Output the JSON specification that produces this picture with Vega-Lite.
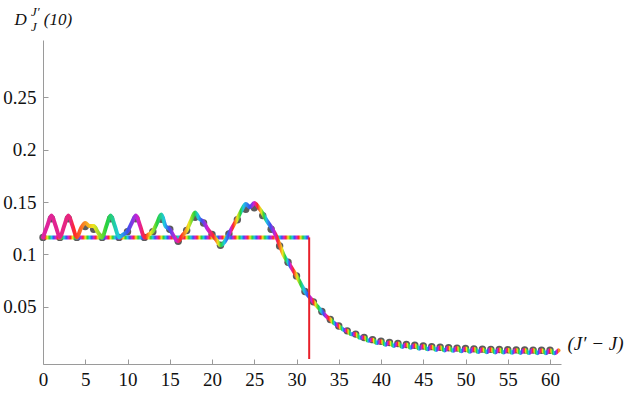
{
"$schema": "https://vega.github.io/schema/vega-lite/v6.json",
"width": 518, "height": 324,
"autosize": {"type": "none"},
"padding": {"left": 43, "top": 40, "right": 81, "bottom": 38},
"background": "white",
"config": {"view": {"stroke": null}, "font": "Liberation Serif", "axis": {"labelFont": "Liberation Serif", "titleFont": "Liberation Serif"}, "title": {"font": "Liberation Serif", "subtitleFont": "Liberation Serif"}},
"title": {"text": "J′", "subtitle": "J", "anchor": "start", "frame": "group", "dx": -12, "offset": -24, "fontSize": 13, "fontStyle": "italic", "fontWeight": "normal", "font": "Liberation Serif", "color": "#111", "subtitleFontSize": 13, "subtitleFontStyle": "italic", "subtitleFont": "Liberation Serif", "subtitleColor": "#111", "subtitlePadding": 2},
"datasets": {
"dots": [
{"x":0,"v":0.1162},{"x":1,"v":0.134},{"x":2,"v":0.1162},{"x":3,"v":0.134},{"x":4,"v":0.1162},{"x":5,"v":0.1265},{"x":6,"v":0.124},{"x":7,"v":0.1162},{"x":8,"v":0.134},{"x":9,"v":0.1162},
{"x":10,"v":0.1215},{"x":11,"v":0.134},{"x":12,"v":0.1162},{"x":13,"v":0.1215},{"x":14,"v":0.1335},{"x":15,"v":0.124},{"x":16,"v":0.1125},{"x":17,"v":0.1228},{"x":18,"v":0.1355},{"x":19,"v":0.130},
{"x":20,"v":0.119},{"x":21,"v":0.1087},{"x":22,"v":0.1195},{"x":23,"v":0.133},{"x":24,"v":0.143},{"x":25,"v":0.1444},{"x":26,"v":0.137},{"x":27,"v":0.124},{"x":28,"v":0.108},{"x":29,"v":0.0925},
{"x":30,"v":0.0794},{"x":31,"v":0.0645},{"x":32,"v":0.0546},{"x":33,"v":0.0454},{"x":34,"v":0.0377},{"x":35,"v":0.0315},{"x":36,"v":0.0269},{"x":37,"v":0.0238},{"x":38,"v":0.0206},{"x":39,"v":0.0185},
{"x":40,"v":0.0170},{"x":41,"v":0.0158},{"x":42,"v":0.0148},{"x":43,"v":0.0139},{"x":44,"v":0.0131},{"x":45,"v":0.0124},{"x":46,"v":0.0118},{"x":47,"v":0.0113},{"x":48,"v":0.0108},{"x":49,"v":0.0104},
{"x":50,"v":0.0100},{"x":51,"v":0.0097},{"x":52,"v":0.0094},{"x":53,"v":0.0092},{"x":54,"v":0.0090},{"x":55,"v":0.0088},{"x":56,"v":0.0087},{"x":57,"v":0.0086},{"x":58,"v":0.0085},{"x":59,"v":0.0084},{"x":60,"v":0.0083}
],
"curve": [
{"x":0,"v":0.1162},{"x":0.5,"v":0.127},{"x":1,"v":0.137},{"x":1.5,"v":0.127},{"x":2,"v":0.1162},{"x":2.5,"v":0.127},{"x":3,"v":0.137},{"x":3.5,"v":0.127},{"x":4,"v":0.1162},{"x":4.5,"v":0.125},
{"x":5,"v":0.130},{"x":5.5,"v":0.127},{"x":6,"v":0.127},{"x":6.5,"v":0.121},{"x":7,"v":0.1162},{"x":7.5,"v":0.127},{"x":8,"v":0.137},{"x":8.5,"v":0.127},{"x":9,"v":0.1162},{"x":9.5,"v":0.119},
{"x":10,"v":0.122},{"x":10.5,"v":0.130},{"x":11,"v":0.137},{"x":11.5,"v":0.127},{"x":12,"v":0.1162},{"x":12.5,"v":0.119},{"x":13,"v":0.122},{"x":13.5,"v":0.130},{"x":14,"v":0.138},{"x":14.5,"v":0.127},
{"x":15,"v":0.124},{"x":15.5,"v":0.117},{"x":16,"v":0.1125},{"x":16.5,"v":0.118},{"x":17,"v":0.123},{"x":17.5,"v":0.132},{"x":18,"v":0.140},{"x":18.5,"v":0.134},{"x":19,"v":0.131},{"x":19.5,"v":0.124},
{"x":20,"v":0.119},{"x":20.5,"v":0.114},{"x":21,"v":0.1087},{"x":21.5,"v":0.112},{"x":22,"v":0.1195},{"x":22.5,"v":0.127},{"x":23,"v":0.134},{"x":23.5,"v":0.142},{"x":24,"v":0.148},{"x":24.5,"v":0.145},
{"x":25,"v":0.149},{"x":25.5,"v":0.145},{"x":26,"v":0.139},{"x":26.5,"v":0.132},{"x":27,"v":0.126},{"x":27.5,"v":0.119},{"x":28,"v":0.109},{"x":28.5,"v":0.099},{"x":29,"v":0.0925},{"x":29.5,"v":0.086},
{"x":30,"v":0.0794},{"x":30.5,"v":0.072},{"x":31,"v":0.0645},{"x":31.5,"v":0.0595},{"x":32,"v":0.0546},{"x":32.5,"v":0.050},{"x":33,"v":0.0454},{"x":33.5,"v":0.041},{"x":34,"v":0.0377},{"x":34.5,"v":0.034},
{"x":35,"v":0.0315},{"x":35.5,"v":0.0282},{"x":36,"v":0.0269},{"x":36.5,"v":0.0236},{"x":37,"v":0.0238},{"x":37.5,"v":0.0203},{"x":38,"v":0.0206},{"x":38.5,"v":0.0174},{"x":39,"v":0.0185},{"x":39.5,"v":0.0152},
{"x":40,"v":0.0170},{"x":40.5,"v":0.0137},{"x":41,"v":0.0158},{"x":41.5,"v":0.0125},{"x":42,"v":0.0148},{"x":42.5,"v":0.0115},{"x":43,"v":0.0139},{"x":43.5,"v":0.0107},{"x":44,"v":0.0131},{"x":44.5,"v":0.0099},
{"x":45,"v":0.0124},{"x":45.5,"v":0.0093},{"x":46,"v":0.0118},{"x":46.5,"v":0.0087},{"x":47,"v":0.0113},{"x":47.5,"v":0.0082},{"x":48,"v":0.0108},{"x":48.5,"v":0.0078},{"x":49,"v":0.0104},{"x":49.5,"v":0.0074},
{"x":50,"v":0.0100},{"x":50.5,"v":0.0070},{"x":51,"v":0.0097},{"x":51.5,"v":0.0067},{"x":52,"v":0.0094},{"x":52.5,"v":0.0065},{"x":53,"v":0.0092},{"x":53.5,"v":0.0063},{"x":54,"v":0.0090},{"x":54.5,"v":0.0061},
{"x":55,"v":0.0088},{"x":55.5,"v":0.0059},{"x":56,"v":0.0087},{"x":56.5,"v":0.0058},{"x":57,"v":0.0086},{"x":57.5,"v":0.0057},{"x":58,"v":0.0085},{"x":58.5,"v":0.0056},{"x":59,"v":0.0084},{"x":59.5,"v":0.0055},
{"x":60,"v":0.0083},{"x":60.5,"v":0.0054},{"x":61,"v":0.0082}
],
"band": [{"x":0,"x2":31.5,"v":0.1162}],
"turn": [{"x":31.5,"v":0,"v2":0.1162}]
},
"layer": [
{"data": {"name": "dots"},
 "mark": {"type": "point", "filled": true, "size": 55, "color": "#5c5c5c", "opacity": 1},
 "encoding": {
  "x": {"field": "x", "type": "quantitative", "scale": {"domain": [0, 61.3], "nice": false},
        "axis": {"values": [0,5,10,15,20,25,30,35,40,45,50,55,60], "format": "d", "grid": false, "domainColor": "#9a9a9a", "tickColor": "#9a9a9a", "tickSize": -5, "labelPadding": 11, "labelFontSize": 19, "labelFont": "Liberation Serif", "labelColor": "#111", "labelFlush": false, "labelOverlap": false,
                 "title": "(J′ − J)", "titleAngle": 0, "titleX": 524, "titleY": -21, "titleAlign": "left", "titleBaseline": "middle", "titleFontSize": 19, "titleFont": "Liberation Serif", "titleFontStyle": "italic", "titleFontWeight": "normal", "titleColor": "#111"}},
  "y": {"field": "v", "type": "quantitative", "scale": {"domain": [0, 0.3], "nice": false},
        "axis": {"values": [0.05,0.1,0.15,0.2,0.25], "format": "~g", "grid": false, "domainColor": "#9a9a9a", "tickColor": "#9a9a9a", "tickSize": -5, "labelPadding": 12, "labelFontSize": 19, "labelFont": "Liberation Serif", "labelColor": "#111",
                 "title": "D\u00a0\u00a0\u00a0\u00a0(10)", "titleAngle": 0, "titleX": -29, "titleY": -16, "titleAlign": "left", "titleBaseline": "alphabetic", "titleFontSize": 17, "titleFont": "Liberation Serif", "titleFontStyle": "italic", "titleFontWeight": "normal", "titleColor": "#111"}}
 }},
{"data": {"name": "band"},
 "mark": {"type": "bar", "height": 4, "color": {"gradient": "linear", "x1": 0, "x2": 1, "y1": 0, "y2": 0, "stops": [
{"offset":0,"color":"#d21ed2"},{"offset":0.00794,"color":"#ff2828"},{"offset":0.01587,"color":"#f0e61e"},{"offset":0.02381,"color":"#28d23c"},{"offset":0.03175,"color":"#1ec8e6"},{"offset":0.03968,"color":"#3c50f0"},
{"offset":0.04762,"color":"#d21ed2"},{"offset":0.05556,"color":"#ff2828"},{"offset":0.06349,"color":"#f0e61e"},{"offset":0.07143,"color":"#28d23c"},{"offset":0.07937,"color":"#1ec8e6"},{"offset":0.08730,"color":"#3c50f0"},
{"offset":0.09524,"color":"#d21ed2"},{"offset":0.10317,"color":"#ff2828"},{"offset":0.11111,"color":"#f0e61e"},{"offset":0.11905,"color":"#28d23c"},{"offset":0.12698,"color":"#1ec8e6"},{"offset":0.13492,"color":"#3c50f0"},
{"offset":0.14286,"color":"#d21ed2"},{"offset":0.15079,"color":"#ff2828"},{"offset":0.15873,"color":"#f0e61e"},{"offset":0.16667,"color":"#28d23c"},{"offset":0.17460,"color":"#1ec8e6"},{"offset":0.18254,"color":"#3c50f0"},
{"offset":0.19048,"color":"#d21ed2"},{"offset":0.19841,"color":"#ff2828"},{"offset":0.20635,"color":"#f0e61e"},{"offset":0.21429,"color":"#28d23c"},{"offset":0.22222,"color":"#1ec8e6"},{"offset":0.23016,"color":"#3c50f0"},
{"offset":0.23810,"color":"#d21ed2"},{"offset":0.24603,"color":"#ff2828"},{"offset":0.25397,"color":"#f0e61e"},{"offset":0.26190,"color":"#28d23c"},{"offset":0.26984,"color":"#1ec8e6"},{"offset":0.27778,"color":"#3c50f0"},
{"offset":0.28571,"color":"#d21ed2"},{"offset":0.29365,"color":"#ff2828"},{"offset":0.30159,"color":"#f0e61e"},{"offset":0.30952,"color":"#28d23c"},{"offset":0.31746,"color":"#1ec8e6"},{"offset":0.32540,"color":"#3c50f0"},
{"offset":0.33333,"color":"#d21ed2"},{"offset":0.34127,"color":"#ff2828"},{"offset":0.34921,"color":"#f0e61e"},{"offset":0.35714,"color":"#28d23c"},{"offset":0.36508,"color":"#1ec8e6"},{"offset":0.37302,"color":"#3c50f0"},
{"offset":0.38095,"color":"#d21ed2"},{"offset":0.38889,"color":"#ff2828"},{"offset":0.39683,"color":"#f0e61e"},{"offset":0.40476,"color":"#28d23c"},{"offset":0.41270,"color":"#1ec8e6"},{"offset":0.42063,"color":"#3c50f0"},
{"offset":0.42857,"color":"#d21ed2"},{"offset":0.43651,"color":"#ff2828"},{"offset":0.44444,"color":"#f0e61e"},{"offset":0.45238,"color":"#28d23c"},{"offset":0.46032,"color":"#1ec8e6"},{"offset":0.46825,"color":"#3c50f0"},
{"offset":0.47619,"color":"#d21ed2"},{"offset":0.48413,"color":"#ff2828"},{"offset":0.49206,"color":"#f0e61e"},{"offset":0.5,"color":"#28d23c"},{"offset":0.50794,"color":"#1ec8e6"},{"offset":0.51587,"color":"#3c50f0"},
{"offset":0.52381,"color":"#d21ed2"},{"offset":0.53175,"color":"#ff2828"},{"offset":0.53968,"color":"#f0e61e"},{"offset":0.54762,"color":"#28d23c"},{"offset":0.55556,"color":"#1ec8e6"},{"offset":0.56349,"color":"#3c50f0"},
{"offset":0.57143,"color":"#d21ed2"},{"offset":0.57937,"color":"#ff2828"},{"offset":0.58730,"color":"#f0e61e"},{"offset":0.59524,"color":"#28d23c"},{"offset":0.60317,"color":"#1ec8e6"},{"offset":0.61111,"color":"#3c50f0"},
{"offset":0.61905,"color":"#d21ed2"},{"offset":0.62698,"color":"#ff2828"},{"offset":0.63492,"color":"#f0e61e"},{"offset":0.64286,"color":"#28d23c"},{"offset":0.65079,"color":"#1ec8e6"},{"offset":0.65873,"color":"#3c50f0"},
{"offset":0.66667,"color":"#d21ed2"},{"offset":0.67460,"color":"#ff2828"},{"offset":0.68254,"color":"#f0e61e"},{"offset":0.69048,"color":"#28d23c"},{"offset":0.69841,"color":"#1ec8e6"},{"offset":0.70635,"color":"#3c50f0"},
{"offset":0.71429,"color":"#d21ed2"},{"offset":0.72222,"color":"#ff2828"},{"offset":0.73016,"color":"#f0e61e"},{"offset":0.73810,"color":"#28d23c"},{"offset":0.74603,"color":"#1ec8e6"},{"offset":0.75397,"color":"#3c50f0"},
{"offset":0.76190,"color":"#d21ed2"},{"offset":0.76984,"color":"#ff2828"},{"offset":0.77778,"color":"#f0e61e"},{"offset":0.78571,"color":"#28d23c"},{"offset":0.79365,"color":"#1ec8e6"},{"offset":0.80159,"color":"#3c50f0"},
{"offset":0.80952,"color":"#d21ed2"},{"offset":0.81746,"color":"#ff2828"},{"offset":0.82540,"color":"#f0e61e"},{"offset":0.83333,"color":"#28d23c"},{"offset":0.84127,"color":"#1ec8e6"},{"offset":0.84921,"color":"#3c50f0"},
{"offset":0.85714,"color":"#d21ed2"},{"offset":0.86508,"color":"#ff2828"},{"offset":0.87302,"color":"#f0e61e"},{"offset":0.88095,"color":"#28d23c"},{"offset":0.88889,"color":"#1ec8e6"},{"offset":0.89683,"color":"#3c50f0"},
{"offset":0.90476,"color":"#d21ed2"},{"offset":0.91270,"color":"#ff2828"},{"offset":0.92063,"color":"#f0e61e"},{"offset":0.92857,"color":"#28d23c"},{"offset":0.93651,"color":"#1ec8e6"},{"offset":0.94444,"color":"#3c50f0"},
{"offset":0.95238,"color":"#d21ed2"},{"offset":0.96032,"color":"#ff2828"},{"offset":0.96825,"color":"#f0e61e"},{"offset":0.97619,"color":"#28d23c"},{"offset":0.98413,"color":"#1ec8e6"},{"offset":0.99206,"color":"#3c50f0"},
{"offset":1,"color":"#d21ed2"}
 ]}},
 "encoding": {
  "x": {"field": "x", "type": "quantitative"},
  "x2": {"field": "x2"},
  "y": {"field": "v", "type": "quantitative"}
 }},
{"data": {"name": "curve"},
 "mark": {"type": "line", "strokeWidth": 4, "strokeCap": "round", "strokeJoin": "round", "interpolate": "monotone", "stroke": {"gradient": "linear", "x1": 0, "x2": 1, "y1": 0, "y2": 0, "stops": [
{"offset":0,"color":"#dd23a2"},{"offset":0.0541,"color":"#e8257a"},{"offset":0.0607,"color":"#ff2828"},{"offset":0.0975,"color":"#f0e61e"},{"offset":0.1230,"color":"#28d23c"},{"offset":0.1475,"color":"#1ec8e6"},{"offset":0.1639,"color":"#3c50f0"},{"offset":0.1838,"color":"#d21ed2"},
{"offset":0.1984,"color":"#ff2828"},{"offset":0.2085,"color":"#f0e61e"},{"offset":0.2213,"color":"#28d23c"},{"offset":0.2354,"color":"#1ec8e6"},{"offset":0.2441,"color":"#3c50f0"},{"offset":0.2575,"color":"#d21ed2"},
{"offset":0.2672,"color":"#ff2828"},{"offset":0.2820,"color":"#f0e61e"},{"offset":0.2936,"color":"#28d23c"},{"offset":0.3008,"color":"#1ec8e6"},{"offset":0.3077,"color":"#3c50f0"},{"offset":0.3189,"color":"#d21ed2"},
{"offset":0.3308,"color":"#ff2828"},{"offset":0.3393,"color":"#f0e61e"},{"offset":0.3452,"color":"#28d23c"},{"offset":0.3520,"color":"#1ec8e6"},{"offset":0.3592,"color":"#3c50f0"},{"offset":0.3643,"color":"#d21ed2"},
{"offset":0.3689,"color":"#ff2828"},{"offset":0.3766,"color":"#f0e61e"},{"offset":0.3831,"color":"#28d23c"},{"offset":0.3885,"color":"#1ec8e6"},{"offset":0.4013,"color":"#3c50f0"},{"offset":0.4090,"color":"#d21ed2"},
{"offset":0.4162,"color":"#ff2828"},{"offset":0.4230,"color":"#f0e61e"},{"offset":0.4284,"color":"#28d23c"},{"offset":0.4328,"color":"#1ec8e6"},{"offset":0.4410,"color":"#3c50f0"},{"offset":0.4500,"color":"#d21ed2"},
{"offset":0.4557,"color":"#ff2828"},{"offset":0.4648,"color":"#f0e61e"},{"offset":0.4700,"color":"#28d23c"},{"offset":0.4746,"color":"#1ec8e6"},{"offset":0.4774,"color":"#3c50f0"},{"offset":0.4800,"color":"#d21ed2"},
{"offset":0.4862,"color":"#ff2828"},{"offset":0.4928,"color":"#f0e61e"},{"offset":0.4990,"color":"#28d23c"},{"offset":0.5062,"color":"#1ec8e6"},{"offset":0.5134,"color":"#3c50f0"},{"offset":0.5207,"color":"#d21ed2"},
{"offset":0.5246,"color":"#ff2828"},{"offset":0.5284,"color":"#f0e61e"},{"offset":0.5339,"color":"#28d23c"},{"offset":0.5390,"color":"#1ec8e6"},{"offset":0.5436,"color":"#3c50f0"},{"offset":0.5487,"color":"#d21ed2"},
{"offset":0.5541,"color":"#ff2828"},{"offset":0.5593,"color":"#f0e61e"},{"offset":0.5620,"color":"#28d23c"},{"offset":0.5648,"color":"#1ec8e6"},{"offset":0.5675,"color":"#3c50f0"},{"offset":0.5702,"color":"#d21ed2"},
{"offset":0.57295,"color":"#ff2828"},{"offset":0.57569,"color":"#f0e61e"},{"offset":0.57841,"color":"#28d23c"},{"offset":0.58115,"color":"#1ec8e6"},{"offset":0.58388,"color":"#3c50f0"},{"offset":0.58661,"color":"#d21ed2"},
{"offset":0.58934,"color":"#ff2828"},{"offset":0.59208,"color":"#f0e61e"},{"offset":0.59480,"color":"#28d23c"},{"offset":0.59754,"color":"#1ec8e6"},{"offset":0.60027,"color":"#3c50f0"},{"offset":0.60300,"color":"#d21ed2"},
{"offset":0.60574,"color":"#ff2828"},{"offset":0.60848,"color":"#f0e61e"},{"offset":0.61120,"color":"#28d23c"},{"offset":0.61394,"color":"#1ec8e6"},{"offset":0.61667,"color":"#3c50f0"},{"offset":0.61940,"color":"#d21ed2"},
{"offset":0.62213,"color":"#ff2828"},{"offset":0.62487,"color":"#f0e61e"},{"offset":0.62759,"color":"#28d23c"},{"offset":0.63033,"color":"#1ec8e6"},{"offset":0.63306,"color":"#3c50f0"},{"offset":0.63579,"color":"#d21ed2"},
{"offset":0.63852,"color":"#ff2828"},{"offset":0.64126,"color":"#f0e61e"},{"offset":0.64398,"color":"#28d23c"},{"offset":0.64672,"color":"#1ec8e6"},{"offset":0.64945,"color":"#3c50f0"},{"offset":0.65218,"color":"#d21ed2"},
{"offset":0.65492,"color":"#ff2828"},{"offset":0.65766,"color":"#f0e61e"},{"offset":0.66038,"color":"#28d23c"},{"offset":0.66312,"color":"#1ec8e6"},{"offset":0.66585,"color":"#3c50f0"},{"offset":0.66858,"color":"#d21ed2"},
{"offset":0.67131,"color":"#ff2828"},{"offset":0.67405,"color":"#f0e61e"},{"offset":0.67677,"color":"#28d23c"},{"offset":0.67951,"color":"#1ec8e6"},{"offset":0.68224,"color":"#3c50f0"},{"offset":0.68497,"color":"#d21ed2"},
{"offset":0.68770,"color":"#ff2828"},{"offset":0.69044,"color":"#f0e61e"},{"offset":0.69316,"color":"#28d23c"},{"offset":0.69590,"color":"#1ec8e6"},{"offset":0.69863,"color":"#3c50f0"},{"offset":0.70136,"color":"#d21ed2"},
{"offset":0.70410,"color":"#ff2828"},{"offset":0.70684,"color":"#f0e61e"},{"offset":0.70956,"color":"#28d23c"},{"offset":0.71230,"color":"#1ec8e6"},{"offset":0.71503,"color":"#3c50f0"},{"offset":0.71776,"color":"#d21ed2"},
{"offset":0.72049,"color":"#ff2828"},{"offset":0.72323,"color":"#f0e61e"},{"offset":0.72595,"color":"#28d23c"},{"offset":0.72869,"color":"#1ec8e6"},{"offset":0.73142,"color":"#3c50f0"},{"offset":0.73415,"color":"#d21ed2"},
{"offset":0.73688,"color":"#ff2828"},{"offset":0.73962,"color":"#f0e61e"},{"offset":0.74234,"color":"#28d23c"},{"offset":0.74508,"color":"#1ec8e6"},{"offset":0.74781,"color":"#3c50f0"},{"offset":0.75054,"color":"#d21ed2"},
{"offset":0.75328,"color":"#ff2828"},{"offset":0.75602,"color":"#f0e61e"},{"offset":0.75874,"color":"#28d23c"},{"offset":0.76148,"color":"#1ec8e6"},{"offset":0.76421,"color":"#3c50f0"},{"offset":0.76694,"color":"#d21ed2"},
{"offset":0.76967,"color":"#ff2828"},{"offset":0.77241,"color":"#f0e61e"},{"offset":0.77513,"color":"#28d23c"},{"offset":0.77787,"color":"#1ec8e6"},{"offset":0.78060,"color":"#3c50f0"},{"offset":0.78333,"color":"#d21ed2"},
{"offset":0.78607,"color":"#ff2828"},{"offset":0.78881,"color":"#f0e61e"},{"offset":0.79153,"color":"#28d23c"},{"offset":0.79427,"color":"#1ec8e6"},{"offset":0.79700,"color":"#3c50f0"},{"offset":0.79973,"color":"#d21ed2"},
{"offset":0.80246,"color":"#ff2828"},{"offset":0.80520,"color":"#f0e61e"},{"offset":0.80792,"color":"#28d23c"},{"offset":0.81066,"color":"#1ec8e6"},{"offset":0.81339,"color":"#3c50f0"},{"offset":0.81612,"color":"#d21ed2"},
{"offset":0.81885,"color":"#ff2828"},{"offset":0.82159,"color":"#f0e61e"},{"offset":0.82431,"color":"#28d23c"},{"offset":0.82705,"color":"#1ec8e6"},{"offset":0.82978,"color":"#3c50f0"},{"offset":0.83251,"color":"#d21ed2"},
{"offset":0.83525,"color":"#ff2828"},{"offset":0.83799,"color":"#f0e61e"},{"offset":0.84071,"color":"#28d23c"},{"offset":0.84345,"color":"#1ec8e6"},{"offset":0.84618,"color":"#3c50f0"},{"offset":0.84891,"color":"#d21ed2"},
{"offset":0.85164,"color":"#ff2828"},{"offset":0.85438,"color":"#f0e61e"},{"offset":0.85710,"color":"#28d23c"},{"offset":0.85984,"color":"#1ec8e6"},{"offset":0.86257,"color":"#3c50f0"},{"offset":0.86530,"color":"#d21ed2"},
{"offset":0.86803,"color":"#ff2828"},{"offset":0.87077,"color":"#f0e61e"},{"offset":0.87349,"color":"#28d23c"},{"offset":0.87623,"color":"#1ec8e6"},{"offset":0.87896,"color":"#3c50f0"},{"offset":0.88169,"color":"#d21ed2"},
{"offset":0.88443,"color":"#ff2828"},{"offset":0.88717,"color":"#f0e61e"},{"offset":0.88989,"color":"#28d23c"},{"offset":0.89263,"color":"#1ec8e6"},{"offset":0.89536,"color":"#3c50f0"},{"offset":0.89809,"color":"#d21ed2"},
{"offset":0.90082,"color":"#ff2828"},{"offset":0.90356,"color":"#f0e61e"},{"offset":0.90628,"color":"#28d23c"},{"offset":0.90902,"color":"#1ec8e6"},{"offset":0.91175,"color":"#3c50f0"},{"offset":0.91448,"color":"#d21ed2"},
{"offset":0.91721,"color":"#ff2828"},{"offset":0.91995,"color":"#f0e61e"},{"offset":0.92267,"color":"#28d23c"},{"offset":0.92541,"color":"#1ec8e6"},{"offset":0.92814,"color":"#3c50f0"},{"offset":0.93087,"color":"#d21ed2"},
{"offset":0.93361,"color":"#ff2828"},{"offset":0.93635,"color":"#f0e61e"},{"offset":0.93907,"color":"#28d23c"},{"offset":0.94181,"color":"#1ec8e6"},{"offset":0.94454,"color":"#3c50f0"},{"offset":0.94727,"color":"#d21ed2"},
{"offset":0.95000,"color":"#ff2828"},{"offset":0.95274,"color":"#f0e61e"},{"offset":0.95546,"color":"#28d23c"},{"offset":0.95820,"color":"#1ec8e6"},{"offset":0.96093,"color":"#3c50f0"},{"offset":0.96366,"color":"#d21ed2"},
{"offset":0.96639,"color":"#ff2828"},{"offset":0.96913,"color":"#f0e61e"},{"offset":0.97185,"color":"#28d23c"},{"offset":0.97459,"color":"#1ec8e6"},{"offset":0.97732,"color":"#3c50f0"},{"offset":0.98005,"color":"#d21ed2"},
{"offset":0.98279,"color":"#ff2828"},{"offset":0.98553,"color":"#f0e61e"},{"offset":0.98825,"color":"#28d23c"},{"offset":0.99099,"color":"#1ec8e6"},{"offset":0.99372,"color":"#3c50f0"},{"offset":0.99645,"color":"#d21ed2"},
{"offset":0.99918,"color":"#ff2828"},{"offset":1,"color":"#f88a24"}
 ]}},
 "encoding": {
  "x": {"field": "x", "type": "quantitative"},
  "y": {"field": "v", "type": "quantitative"}
 }},
{"data": {"name": "turn"},
 "mark": {"type": "rule", "color": "#e8202a", "strokeWidth": 2},
 "encoding": {
  "x": {"field": "x", "type": "quantitative"},
  "y": {"field": "v", "type": "quantitative"},
  "y2": {"field": "v2"}
 }}
]
}
